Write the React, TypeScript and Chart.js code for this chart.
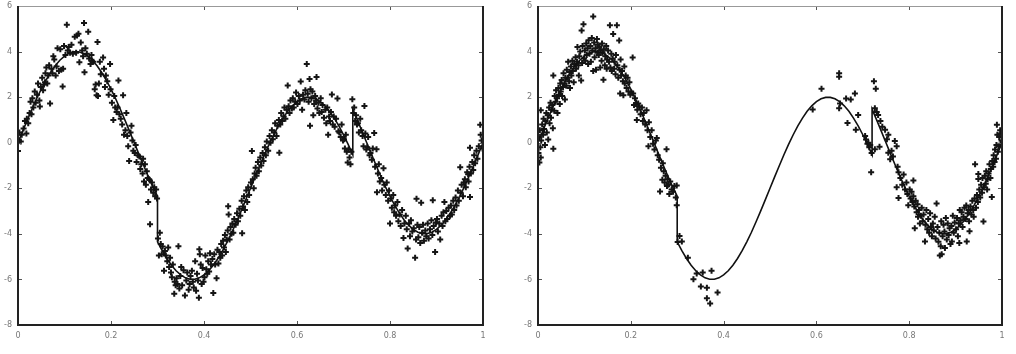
import React, { useEffect, useRef } from 'react';
import { Chart, registerables } from 'chart.js';

Chart.register(...registerables);

type Pt = [number, number];

const xTickValues = [0, 0.2, 0.4, 0.6, 0.8, 1];
const xTickLabels = ['0', '0.2', '0.4', '0.6', '0.8', '1'];
const yTickValues = [-8, -6, -4, -2, 0, 2, 4, 6];
const yTickLabels = ['-8', '-6', '-4', '-2', '0', '2', '4', '6'];

const curveValues: Pt[] = [
  [0, 0], [0.01, 0.5], [0.02, 0.99], [0.03, 1.47], [0.04, 1.93], [0.05, 2.35], [0.06, 2.74], [0.07, 3.08], [0.08, 3.38], [0.09, 3.62],
  [0.1, 3.8], [0.11, 3.93], [0.12, 3.99], [0.13, 3.99], [0.14, 3.93], [0.15, 3.8], [0.16, 3.62], [0.17, 3.38], [0.18, 3.08], [0.19, 2.74],
  [0.2, 2.35], [0.21, 1.93], [0.22, 1.47], [0.23, 0.99], [0.24, 0.5], [0.25, 0], [0.26, -0.5], [0.27, -0.99], [0.28, -1.47], [0.29, -1.93],
  [0.3, -2.35], [0.3, -4.35], [0.31, -4.74], [0.32, -5.08], [0.33, -5.38], [0.34, -5.62], [0.35, -5.8], [0.36, -5.93], [0.37, -5.99], [0.38, -5.99],
  [0.39, -5.93], [0.4, -5.8], [0.41, -5.62], [0.42, -5.38], [0.43, -5.08], [0.44, -4.74], [0.45, -4.35], [0.46, -3.93], [0.47, -3.47], [0.48, -2.99],
  [0.49, -2.5], [0.5, -2.0], [0.51, -1.5], [0.52, -1.01], [0.53, -0.53], [0.54, -0.07], [0.55, 0.35], [0.56, 0.74], [0.57, 1.08], [0.58, 1.38],
  [0.59, 1.62], [0.6, 1.8], [0.61, 1.93], [0.62, 1.99], [0.63, 1.99], [0.64, 1.93], [0.65, 1.8], [0.66, 1.62], [0.67, 1.38], [0.68, 1.08],
  [0.69, 0.74], [0.7, 0.35], [0.71, -0.07], [0.72, -0.53], [0.72, 1.47], [0.73, 0.99], [0.74, 0.5], [0.75, 0], [0.76, -0.5], [0.77, -0.99],
  [0.78, -1.47], [0.79, -1.93], [0.8, -2.35], [0.81, -2.74], [0.82, -3.08], [0.83, -3.38], [0.84, -3.62], [0.85, -3.8], [0.86, -3.93], [0.87, -3.99],
  [0.88, -3.99], [0.89, -3.93], [0.9, -3.8], [0.91, -3.62], [0.92, -3.38], [0.93, -3.08], [0.94, -2.74], [0.95, -2.35], [0.96, -1.93], [0.97, -1.47],
  [0.98, -0.99], [0.99, -0.5], [1.0, 0],
];

const leftPoints: Pt[] = [
  [0.0, -0.36], [0.002, 0.1], [0.003, 0.45], [0.006, 0.05], [0.008, 0.35],
  [0.012, 0.62], [0.015, 0.95], [0.018, 0.4], [0.019, 1.05],
  [0.022, 0.85], [0.025, 1.3], [0.027, 1.8], [0.029, 1.25],
  [0.031, 1.95], [0.033, 1.55], [0.036, 2.25], [0.038, 1.75],
  [0.041, 2.1], [0.043, 2.6], [0.046, 1.85], [0.047, 1.59], [0.049, 2.45],
  [0.052, 2.85], [0.054, 2.3], [0.056, 2.55], [0.058, 2.65], [0.059, 3.05],
  [0.061, 3.3], [0.063, 2.6], [0.065, 2.95], [0.067, 3.4], [0.069, 1.72],
  [0.072, 3.25], [0.074, 3.05], [0.076, 3.8], [0.078, 3.65],
  [0.081, 2.95], [0.083, 3.35], [0.085, 4.15], [0.088, 3.15],
  [0.091, 4.1], [0.093, 3.2], [0.096, 2.47], [0.097, 3.25], [0.099, 4.25],
  [0.102, 3.85], [0.105, 5.18], [0.107, 4.05], [0.109, 4.2],
  [0.112, 3.95], [0.115, 4.3], [0.118, 3.9],
  [0.122, 4.65], [0.125, 3.95], [0.127, 4.7], [0.13, 4.78], [0.132, 3.53],
  [0.135, 4.4], [0.138, 4.05], [0.14, 3.8], [0.142, 5.25],
  [0.143, 3.09], [0.145, 4.15], [0.148, 3.9], [0.151, 4.87],
  [0.153, 3.7], [0.156, 3.45], [0.158, 3.85], [0.159, 3.6],
  [0.162, 3.55], [0.165, 2.35], [0.167, 2.55], [0.169, 2.08], [0.171, 4.42],
  [0.172, 2.05], [0.174, 2.6], [0.176, 3.55], [0.178, 3.0],
  [0.183, 3.74], [0.185, 3.25], [0.187, 2.45], [0.189, 2.95],
  [0.192, 2.7], [0.195, 2.1], [0.198, 3.45], [0.199, 2.35],
  [0.202, 1.75], [0.205, 1.0], [0.207, 2.05], [0.209, 1.55],
  [0.212, 1.35], [0.214, 1.55], [0.216, 2.73], [0.218, 1.25],
  [0.221, 1.05], [0.224, 0.8], [0.226, 2.08], [0.228, 0.35],
  [0.231, 0.55], [0.233, 1.3], [0.235, 0.3], [0.237, -0.15], [0.239, -0.8],
  [0.242, 0.45], [0.244, 0.75], [0.246, 0.1], [0.248, -0.35],
  [0.251, -0.45], [0.253, -0.1], [0.255, -0.85], [0.258, -0.55],
  [0.261, -0.6], [0.263, -1.15], [0.265, -0.95], [0.268, -1.35], [0.269, -0.7],
  [0.271, -1.7], [0.273, -0.95], [0.275, -1.85], [0.277, -1.25], [0.279, -1.55],
  [0.28, -2.6], [0.282, -1.6], [0.284, -3.58], [0.286, -2.05], [0.288, -1.75],
  [0.291, -2.2], [0.293, -1.95], [0.295, -2.35], [0.297, -2.05], [0.299, -2.45],
  [0.301, -4.2], [0.303, -4.95], [0.305, -3.95], [0.307, -4.45], [0.309, -4.9],
  [0.311, -4.55], [0.314, -5.62], [0.316, -4.75], [0.318, -4.95],
  [0.321, -5.2], [0.323, -4.6], [0.325, -5.45], [0.327, -5.05], [0.329, -5.7],
  [0.331, -5.9], [0.333, -5.35], [0.336, -6.63], [0.337, -6.1], [0.339, -6.25],
  [0.341, -5.95], [0.343, -6.2], [0.345, -4.54], [0.347, -6.4], [0.349, -5.85],
  [0.351, -5.45], [0.353, -6.25], [0.356, -5.6], [0.359, -6.7],
  [0.362, -6.05], [0.364, -5.7], [0.367, -6.45], [0.369, -6.2],
  [0.371, -5.85], [0.374, -5.62], [0.376, -6.1], [0.378, -6.35],
  [0.381, -5.2], [0.383, -6.5], [0.385, -5.75], [0.387, -6.05], [0.389, -6.8],
  [0.39, -4.68], [0.391, -4.9], [0.393, -5.35], [0.395, -6.2], [0.397, -5.5], [0.399, -6.1],
  [0.401, -5.9], [0.403, -4.95], [0.405, -5.55], [0.407, -5.75], [0.409, -5.2],
  [0.411, -5.65], [0.413, -4.85], [0.415, -5.35], [0.418, -5.1], [0.42, -6.6],
  [0.422, -4.9], [0.424, -5.35], [0.427, -5.95], [0.429, -4.7],
  [0.431, -5.3], [0.433, -4.8], [0.435, -5.05], [0.437, -4.45], [0.439, -4.95],
  [0.441, -4.3], [0.443, -4.6], [0.445, -4.05], [0.447, -4.8], [0.449, -4.25],
  [0.451, -3.85], [0.452, -2.79], [0.453, -3.15], [0.455, -4.25], [0.457, -3.7], [0.459, -4.0],
  [0.461, -3.55], [0.463, -3.95], [0.465, -3.35], [0.468, -3.6],
  [0.471, -3.1], [0.473, -3.45], [0.476, -2.9], [0.478, -3.2],
  [0.481, -2.55], [0.482, -3.97], [0.484, -2.8], [0.486, -2.35], [0.488, -2.95],
  [0.491, -2.1], [0.493, -2.6], [0.495, -1.95], [0.497, -2.3],
  [0.501, -1.75], [0.503, -0.36], [0.505, -1.6], [0.507, -2.0], [0.509, -1.35],
  [0.511, -1.1], [0.513, -1.45], [0.516, -0.85], [0.518, -1.25],
  [0.521, -0.65], [0.523, -1.0], [0.526, -0.45], [0.528, -0.8],
  [0.531, -0.2], [0.533, -0.55], [0.535, 0.05], [0.538, -0.35],
  [0.541, 0.3], [0.543, 0.0], [0.546, 0.55], [0.548, 0.15],
  [0.551, 0.45], [0.553, 0.85], [0.556, 0.3], [0.558, 0.75],
  [0.561, 1.0], [0.562, -0.44], [0.564, 0.8], [0.566, 1.3], [0.568, 0.95],
  [0.571, 1.15], [0.573, 1.55], [0.575, 1.05], [0.578, 1.45], [0.58, 2.51],
  [0.582, 1.6], [0.584, 1.3], [0.586, 1.85], [0.589, 1.5],
  [0.591, 1.95], [0.593, 1.55], [0.596, 1.8], [0.598, 2.2],
  [0.601, 1.7], [0.604, 2.05], [0.606, 1.85], [0.608, 2.69],
  [0.611, 1.45], [0.613, 2.1], [0.616, 1.9], [0.618, 2.3],
  [0.621, 3.45], [0.623, 2.15], [0.625, 1.8], [0.627, 2.8], [0.628, 0.74], [0.629, 2.35],
  [0.631, 1.95], [0.633, 2.25], [0.635, 1.2], [0.637, 1.7], [0.639, 2.05],
  [0.641, 1.85], [0.642, 2.88], [0.644, 1.5], [0.646, 1.75], [0.648, 1.3],
  [0.651, 1.95], [0.653, 1.35], [0.655, 1.65], [0.658, 1.1],
  [0.661, 1.45], [0.663, 0.85], [0.665, 1.55], [0.667, 0.35], [0.669, 1.15],
  [0.671, 0.95], [0.673, 1.35], [0.675, 2.12], [0.677, 0.8], [0.679, 1.15],
  [0.681, 0.7], [0.684, 1.05], [0.687, 1.94], [0.689, 0.5],
  [0.691, 0.45], [0.694, 0.25], [0.696, 0.8], [0.699, 0.1],
  [0.701, 0.15], [0.703, -0.25], [0.705, 0.35], [0.707, -0.4], [0.709, -0.87],
  [0.711, -0.3], [0.713, -0.65], [0.715, -0.95], [0.717, -0.4], [0.719, 1.91],
  [0.721, 1.3], [0.723, 1.55], [0.725, 0.95], [0.727, 1.2], [0.729, 0.8],
  [0.731, 0.85], [0.733, 0.45], [0.736, 1.05], [0.738, 0.55],
  [0.741, 0.3], [0.743, -0.15], [0.745, 1.61], [0.747, 0.4], [0.749, -0.3],
  [0.751, -0.2], [0.753, 0.25], [0.756, -0.55], [0.758, -0.45],
  [0.761, -0.75], [0.763, -0.25], [0.766, 0.43], [0.768, -1.05],
  [0.771, -0.29], [0.772, -2.17], [0.774, -1.35], [0.776, -0.95], [0.778, -1.7],
  [0.781, -1.55], [0.783, -2.1], [0.786, -1.12], [0.788, -1.85],
  [0.791, -2.3], [0.793, -1.75], [0.796, -2.55], [0.798, -2.1],
  [0.8, -3.54], [0.802, -2.45], [0.804, -2.85], [0.807, -2.3], [0.809, -3.05],
  [0.811, -2.75], [0.813, -3.2], [0.816, -2.6], [0.818, -3.45],
  [0.821, -3.15], [0.823, -3.65], [0.826, -2.95], [0.829, -4.18],
  [0.831, -3.55], [0.834, -3.2], [0.836, -3.8], [0.838, -4.64],
  [0.841, -3.55], [0.843, -4.1], [0.845, -3.4], [0.848, -3.9],
  [0.851, -3.75], [0.854, -5.05], [0.856, -4.25], [0.857, -2.46], [0.859, -3.6],
  [0.861, -4.15], [0.863, -3.7], [0.865, -4.4], [0.867, -2.64], [0.869, -3.95],
  [0.871, -3.6], [0.873, -4.3], [0.876, -3.85], [0.878, -4.1],
  [0.881, -3.55], [0.883, -4.2], [0.886, -3.8], [0.889, -3.4],
  [0.891, -4.05], [0.892, -2.53], [0.894, -3.65], [0.897, -4.8], [0.899, -3.5],
  [0.901, -3.35], [0.903, -3.9], [0.906, -3.55], [0.908, -4.25],
  [0.911, -3.2], [0.913, -3.65], [0.915, -3.05], [0.917, -2.6], [0.919, -3.45],
  [0.921, -3.0], [0.923, -3.35], [0.926, -2.85], [0.929, -3.2],
  [0.931, -2.75], [0.933, -3.15], [0.936, -2.55], [0.938, -2.95],
  [0.941, -2.4], [0.943, -2.75], [0.946, -2.1], [0.948, -2.55],
  [0.951, -1.08], [0.952, -2.2], [0.954, -1.85], [0.957, -2.35], [0.959, -1.75],
  [0.961, -1.6], [0.963, -1.95], [0.966, -1.3], [0.968, -1.38], [0.969, -1.7],
  [0.971, -1.05], [0.972, -0.22], [0.972, -2.38], [0.974, -1.35], [0.977, -0.85], [0.979, -1.2],
  [0.981, -0.55], [0.983, -0.9], [0.986, -0.35], [0.988, -0.7],
  [0.991, -0.15], [0.994, 0.79], [0.995, 0.35], [0.997, 0.1], [0.999, -0.25],
];

const rightPoints: Pt[] = [
  [0.001, -0.45], [0.002, 0.25], [0.003, -0.87], [0.004, 0.55], [0.005, -0.2], [0.006, 1.43], [0.006, -0.65], [0.007, 0.1], [0.009, 0.8],
  [0.011, 0.35], [0.012, 1.05], [0.013, 0.6], [0.015, -0.1], [0.016, 0.95], [0.018, 1.3], [0.019, 0.45],
  [0.021, 1.2], [0.022, 0.14], [0.024, 1.55], [0.025, 0.85], [0.027, 1.75], [0.028, 1.1], [0.029, 1.45],
  [0.031, 1.65], [0.032, 0.64], [0.033, -0.27], [0.033, 2.95], [0.035, 1.4], [0.036, 2.05], [0.038, 1.8], [0.039, 2.3],
  [0.041, 1.95], [0.042, 1.3], [0.044, 2.4], [0.045, 2.1], [0.047, 1.7], [0.048, 2.6], [0.049, 2.25],
  [0.051, 2.75], [0.052, 2.05], [0.054, 2.45], [0.055, 3.05], [0.057, 2.6], [0.058, 1.9], [0.059, 2.85],
  [0.061, 2.5], [0.062, 3.2], [0.064, 2.85], [0.065, 3.55], [0.067, 2.7], [0.068, 3.1], [0.069, 2.4],
  [0.071, 3.35], [0.072, 2.95], [0.074, 3.6], [0.075, 3.15], [0.077, 2.65], [0.078, 3.45],
  [0.081, 3.75], [0.082, 3.25], [0.084, 3.55], [0.085, 4.2], [0.087, 3.4], [0.088, 2.95], [0.089, 3.8],
  [0.091, 4.0], [0.093, 2.73], [0.094, 4.92], [0.095, 3.5], [0.096, 4.25], [0.098, 5.2], [0.099, 3.7],
  [0.101, 4.05], [0.102, 3.6], [0.104, 4.35], [0.105, 3.85], [0.107, 4.15], [0.108, 3.45], [0.109, 4.5],
  [0.111, 3.9], [0.113, 4.25], [0.114, 3.55], [0.116, 4.6], [0.117, 4.05], [0.119, 5.54], [0.119, 3.15],
  [0.121, 4.4], [0.122, 3.75], [0.124, 4.15], [0.125, 3.2], [0.127, 4.55], [0.128, 3.95], [0.129, 4.3],
  [0.131, 3.85], [0.132, 4.2], [0.134, 3.3], [0.135, 4.05], [0.137, 3.6], [0.138, 4.35], [0.139, 3.95],
  [0.141, 2.76], [0.142, 4.1], [0.144, 3.4], [0.145, 3.8], [0.147, 4.25], [0.148, 3.25], [0.149, 3.65],
  [0.151, 4.05], [0.153, 3.55], [0.155, 5.15], [0.156, 3.3], [0.158, 3.9], [0.159, 3.15],
  [0.161, 3.7], [0.162, 4.77], [0.164, 3.25], [0.165, 3.55], [0.167, 3.0], [0.168, 3.85], [0.17, 5.15],
  [0.171, 3.4], [0.173, 2.85], [0.175, 4.49], [0.176, 3.2], [0.177, 2.16], [0.178, 3.65], [0.179, 2.95],
  [0.181, 3.15], [0.183, 2.7], [0.184, 2.08], [0.186, 3.35], [0.187, 2.6], [0.189, 2.95],
  [0.191, 2.4], [0.193, 2.85], [0.195, 2.25], [0.197, 2.65], [0.199, 2.1],
  [0.201, 2.2], [0.204, 3.74], [0.205, 2.16], [0.207, 1.65], [0.209, 1.95],
  [0.211, 1.7], [0.213, 1.0], [0.214, 1.45], [0.216, 1.72], [0.218, 1.6],
  [0.221, 1.25], [0.224, 1.55], [0.226, 0.95], [0.228, 1.3],
  [0.231, 0.8], [0.234, 1.43], [0.236, 0.55], [0.238, -0.15], [0.239, 0.9],
  [0.242, 0.25], [0.245, 0.55], [0.248, -0.05],
  [0.251, -0.3], [0.254, 0.1], [0.256, 0.21], [0.258, -0.55],
  [0.261, -0.75], [0.263, -2.14], [0.265, -1.1], [0.268, -1.62], [0.269, -0.9],
  [0.271, -1.25], [0.273, -1.75], [0.275, -1.45], [0.277, -0.29], [0.278, -1.9], [0.279, -1.6],
  [0.281, -1.85], [0.283, -2.25], [0.285, -1.7], [0.288, -2.05],
  [0.291, -2.15], [0.294, -1.9], [0.297, -2.4], [0.299, -1.88], [0.299, -2.74],
  [0.301, -4.36], [0.305, -4.09], [0.31, -4.33], [0.323, -5.05], [0.335, -5.99], [0.342, -5.74], [0.351, -6.31],
  [0.355, -5.7], [0.364, -6.37], [0.364, -6.83], [0.371, -7.06], [0.374, -5.62], [0.387, -6.57],
  [0.592, 1.46], [0.611, 2.37], [0.649, 3.05], [0.649, 2.9], [0.651, 1.72], [0.649, 1.51], [0.664, 1.94], [0.667, 0.86],
  [0.674, 1.9], [0.683, 2.16], [0.685, 0.57], [0.69, 1.22], [0.705, 0.3], [0.707, 0.14], [0.71, -0.05], [0.712, 0.0],
  [0.714, -0.2], [0.716, -0.1], [0.718, -1.3], [0.719, -0.45],
  [0.724, 2.7], [0.726, 1.51], [0.726, -0.29], [0.728, 2.37], [0.73, 1.35], [0.733, 1.22], [0.736, -0.18], [0.738, 0.95],
  [0.742, 0.7], [0.748, 0.57], [0.752, 0.15], [0.755, 0.35], [0.755, -0.44], [0.759, -0.73], [0.762, -0.35], [0.765, -0.6],
  [0.769, 0.07], [0.773, -0.15], [0.773, -1.95], [0.775, -1.05], [0.777, -1.3], [0.777, -2.43], [0.781, -1.55], [0.785, -1.85],
  [0.788, -1.4], [0.791, -2.05], [0.794, -1.75], [0.796, -2.25], [0.798, -2.74],
  [0.801, -2.05], [0.803, -2.45], [0.805, -2.15], [0.807, -2.6], [0.809, -1.66], [0.809, -2.35],
  [0.811, -2.8], [0.812, -3.75], [0.814, -2.55], [0.816, -3.05], [0.818, -2.7], [0.819, -3.25],
  [0.821, -2.95], [0.823, -3.54], [0.825, -3.2], [0.827, -2.85], [0.829, -3.45],
  [0.831, -3.15], [0.834, -4.33], [0.835, -3.6], [0.837, -2.95], [0.839, -3.8],
  [0.841, -3.35], [0.843, -3.95], [0.845, -3.1], [0.847, -3.7], [0.849, -4.1],
  [0.851, -3.55], [0.853, -3.85], [0.855, -3.25], [0.857, -4.2], [0.859, -2.67],
  [0.861, -3.7], [0.863, -4.35], [0.865, -3.95], [0.866, -4.95], [0.868, -4.54], [0.869, -3.45],
  [0.87, -4.9], [0.872, -4.1], [0.874, -3.6], [0.876, -3.9], [0.877, -4.62], [0.879, -3.3],
  [0.881, -4.25], [0.883, -3.55], [0.885, -4.05], [0.887, -3.75], [0.889, -4.45],
  [0.891, -3.65], [0.892, -4.33], [0.894, -3.2], [0.896, -3.95], [0.898, -3.5],
  [0.901, -3.8], [0.903, -3.3], [0.905, -4.1], [0.907, -3.55], [0.908, -4.4], [0.909, -2.95],
  [0.911, -3.4], [0.913, -3.05], [0.915, -3.7], [0.917, -3.25], [0.919, -2.85],
  [0.921, -3.35], [0.923, -2.75], [0.924, -4.33], [0.926, -3.1], [0.928, -2.95], [0.929, -3.45],
  [0.93, -3.89], [0.932, -2.8], [0.934, -3.15], [0.936, -2.55], [0.938, -2.95], [0.939, -3.25],
  [0.941, -2.45], [0.942, -0.94], [0.944, -2.85], [0.946, -2.3], [0.948, -2.6], [0.949, -1.37], [0.949, -1.59],
  [0.951, -2.05], [0.953, -2.4], [0.955, -1.85], [0.957, -2.2], [0.958, -1.55], [0.96, -3.46],
  [0.961, -1.95], [0.963, -1.45], [0.965, -1.8], [0.966, -1.25], [0.968, -2.05], [0.969, -1.6],
  [0.971, -1.35], [0.973, -0.95], [0.975, -1.55], [0.976, -1.15], [0.978, -2.38], [0.979, -0.8],
  [0.981, -1.05], [0.982, -0.55], [0.984, -0.85], [0.985, -0.3], [0.987, -0.7], [0.988, -0.1],
  [0.989, 0.79], [0.99, 0.35], [0.991, -0.4], [0.993, -0.15], [0.994, 0.25], [0.996, 0.55], [0.997, -0.05], [0.998, 0.4], [0.999, 0.1],
];

const toXY = (arr: Pt[]) => arr.map(([x, y]) => ({ x, y }));

const framePlugin = {
  id: 'frame',
  afterDraw(chart: any) {
    const { ctx, chartArea: a, scales } = chart;
    ctx.save();
    ctx.strokeStyle = '#555';
    ctx.lineWidth = 1;
    xTickValues.forEach((v) => {
      const px = Math.round(scales.x.getPixelForValue(v)) + 0.5;
      ctx.beginPath();
      ctx.moveTo(px, a.bottom);
      ctx.lineTo(px, a.bottom - 4);
      ctx.moveTo(px, a.top);
      ctx.lineTo(px, a.top + 4);
      ctx.stroke();
    });
    yTickValues.forEach((v) => {
      const py = Math.round(scales.y.getPixelForValue(v)) + 0.5;
      ctx.beginPath();
      ctx.moveTo(a.right, py);
      ctx.lineTo(a.right - 4, py);
      ctx.moveTo(a.left, py);
      ctx.lineTo(a.left + 4, py);
      ctx.stroke();
    });
    ctx.strokeStyle = '#999';
    ctx.lineWidth = 1;
    ctx.beginPath();
    ctx.moveTo(a.left, a.top + 0.5);
    ctx.lineTo(a.right, a.top + 0.5);
    ctx.stroke();
    ctx.strokeStyle = '#222';
    ctx.lineWidth = 2;
    ctx.beginPath();
    ctx.moveTo(a.left, a.top);
    ctx.lineTo(a.left, a.bottom);
    ctx.lineTo(a.right, a.bottom);
    ctx.lineTo(a.right, a.top);
    ctx.stroke();
    ctx.restore();
  },
};

function Panel({ points, curve, left, width, axisWidth, padRight }: { points: Pt[]; curve: Pt[]; left: number; width: number; axisWidth: number; padRight: number }) {
  const ref = useRef<HTMLCanvasElement | null>(null);
  useEffect(() => {
    if (!ref.current) return;
    const tickFont = { family: 'DejaVu Sans', size: 8 };
    const chart = new Chart(ref.current, {
      type: 'scatter',
      data: {
        datasets: [
          {
            data: toXY(curve),
            showLine: true,
            borderColor: '#111',
            borderWidth: 1.6,
            pointRadius: 0,
            tension: 0,
          },
          {
            data: toXY(points),
            pointStyle: 'cross',
            pointRadius: 3,
            pointBorderWidth: 2,
            borderColor: '#151515',
            backgroundColor: '#151515',
            showLine: false,
          },
        ],
      },
      options: {
        responsive: false,
        animation: false,
        devicePixelRatio: 1,
        layout: { padding: { left: 0, right: padRight, top: 1, bottom: 0 } },
        plugins: { legend: { display: false }, tooltip: { enabled: false } },
        events: [],
        scales: {
          x: {
            type: 'linear',
            min: 0,
            max: 1,
            afterBuildTicks: (s: any) => { s.ticks = xTickValues.map((v) => ({ value: v })); },
            ticks: {
              font: tickFont,
              color: '#777',
              padding: 6,
              maxRotation: 0,
              callback: (_v: any, i: number) => xTickLabels[i],
            },
            grid: { display: false, drawTicks: false },
            border: { display: false },
            afterFit: (s: any) => { s.height = 29; s.paddingLeft = 0; s.paddingRight = 0; s.paddingTop = 0; s.paddingBottom = 0; },
          },
          y: {
            type: 'linear',
            min: -8,
            max: 6,
            afterBuildTicks: (s: any) => { s.ticks = yTickValues.map((v) => ({ value: v })); },
            ticks: {
              font: tickFont,
              color: '#777',
              padding: 6,
              callback: (_v: any, i: number) => yTickLabels[i],
            },
            grid: { display: false, drawTicks: false },
            border: { display: false },
            afterFit: (s: any) => { s.width = axisWidth; s.paddingLeft = 0; s.paddingRight = 0; s.paddingTop = 0; s.paddingBottom = 0; },
          },
        },
      },
      plugins: [framePlugin],
    } as any);
    return () => chart.destroy();
  }, []);
  return <canvas ref={ref} width={width} height={354} style={{ position: 'absolute', left, top: 0, width, height: 354 }} />;
}

export default function App() {
  return (
    <div style={{ position: 'absolute', left: 0, top: 0, width: 1016, height: 354, background: '#fff', overflow: 'hidden' }}>
      <Panel points={leftPoints} curve={curveValues} left={0} width={500} axisWidth={18} padRight={17} />
      <Panel points={rightPoints} curve={curveValues} left={500} width={516} axisWidth={38} padRight={14} />
    </div>
  );
}
